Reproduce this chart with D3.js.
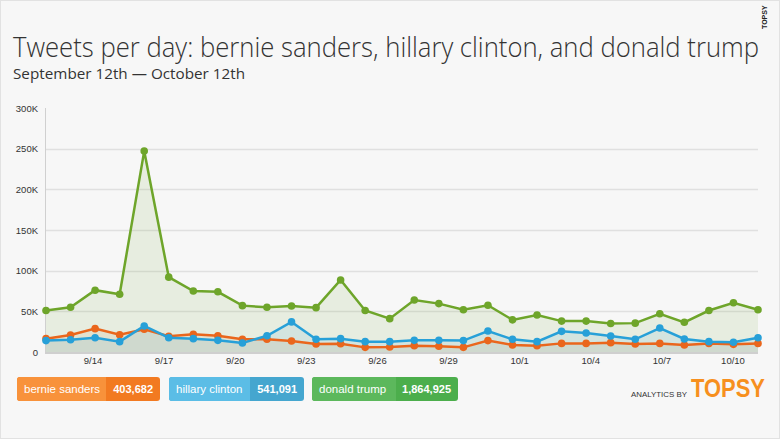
<!DOCTYPE html>
<html><head><meta charset="utf-8">
<script src="https://cdn.jsdelivr.net/npm/d3@7/dist/d3.min.js"></script>
<style>body{margin:0;background:#fff}svg{display:block}</style>
</head><body>
<svg id="c" width="780" height="439"></svg>
<script>
const days = ["9/12","9/13","9/14","9/15","9/16","9/17","9/18","9/19","9/20","9/21","9/22","9/23","9/24","9/25","9/26","9/27","9/28","9/29","9/30","10/1","10/2","10/3","10/4","10/5","10/6","10/7","10/8","10/9","10/10","10/11"];
const tickLabels = ["9/14","9/17","9/20","9/23","9/26","9/29","10/1","10/4","10/7","10/10"];
const trump = [51,55,76,71,247,92,75,74,57,55,56.5,54.5,88.5,51,41,64,59.5,52,57.5,39.5,45.5,38,38,35,35.5,47,36.5,51,60.5,52];
const hillary = [14,15,17.6,12.7,32,17.6,16.4,14.3,11,20,37,15.6,16.4,12.7,12.7,14.3,14.3,14,25.8,15.6,12.7,25.4,23.4,19.7,15.6,29.5,16,12.7,11.9,17.6];
const bernie = [16.4,20.9,28.7,21.3,27.9,19.3,21.7,20,15.6,15.6,13.5,9.8,10.2,5.7,6.1,7.8,7,5.7,14,8.6,7.8,10.6,10.6,11.5,9.8,10.6,8.6,10.6,9.4,10.6];
const yTicks = [0,50,100,150,200,250,300];
const seriesNames = ["bernie sanders","hillary clinton","donald trump"];
const seriesTotals = ["403,682","541,091","1,864,925"];

const svg = d3.select("#c");
svg.append("rect").attr("x",0.5).attr("y",0.5).attr("width",779).attr("height",438)
  .attr("fill","#f7f7f7").attr("stroke","#e2e2e2");

// title
svg.append("text").attr("x",13).attr("y",57).attr("font-family","Open Sans").attr("font-weight",300)
  .attr("font-size",27.5).attr("fill","#333").attr("textLength",746).attr("lengthAdjust","spacingAndGlyphs")
  .text("Tweets per day: bernie sanders, hillary clinton, and donald trump");
svg.append("text").attr("x",13).attr("y",78.5).attr("font-family","Open Sans").attr("font-size",15)
  .attr("fill","#333").attr("textLength",232).attr("lengthAdjust","spacingAndGlyphs").text("September 12th \u2014 October 12th");

// vertical TOPSY
svg.append("text").attr("transform","translate(767,29) rotate(-90)").attr("font-family","Liberation Sans")
  .attr("font-weight","bold").attr("font-size",7).attr("fill","#222").text("TOPSY");

const x = d3.scalePoint().domain(d3.range(days.length)).range([46,758]);
const xt = d3.scalePoint().domain(tickLabels).range([93,733]);
const y = d3.scaleLinear().domain([0,300]).range([352,108]);

// grid
svg.append("g").selectAll("line").data(yTicks.slice(1,-1)).join("line")
  .attr("x1",45).attr("x2",758).attr("y1",d=>Math.round(y(d))+0.5).attr("y2",d=>Math.round(y(d))+0.5)
  .attr("stroke","#e0e0e0").attr("stroke-width",1.3);
svg.append("g").selectAll("text").data(yTicks).join("text")
  .attr("x",38).attr("y",d=>y(d)+3.5).attr("text-anchor","end")
  .attr("font-family","Liberation Sans").attr("font-size",9.5).attr("fill","#333")
  .text(d=>d===0?"0":d+"K");

const series = [
  {v:trump, c:"#6ea52a", f:"rgba(110,165,42,0.11)"},
  {v:bernie, c:"#ea661c", f:"rgba(200,120,40,0.10)"},
  {v:hillary, c:"#27a0d8", f:"rgba(40,160,216,0.10)"}
];
const area = d3.area().x((d,i)=>x(i)).y0(y(0)).y1(d=>y(d));
const line = d3.line().x((d,i)=>x(i)).y(d=>y(d));
series.forEach(s=>{
  svg.append("path").attr("d",area(s.v)).attr("fill",s.f);
});
// axis lines
svg.append("line").attr("x1",45.5).attr("x2",45.5).attr("y1",108).attr("y2",352).attr("stroke","#d0d0d0");
svg.append("line").attr("x1",45).attr("x2",758).attr("y1",353).attr("y2",353).attr("stroke","#cfcfcf").attr("stroke-width",2);
series.forEach(s=>{
  svg.append("path").attr("d",line(s.v)).attr("fill","none").attr("stroke",s.c).attr("stroke-width",2.5);
  svg.append("g").selectAll("circle").data(s.v).join("circle")
    .attr("cx",(d,i)=>x(i)).attr("cy",d=>y(d)).attr("r",3.8).attr("fill",s.c);
});

// x labels
svg.append("g").selectAll("text").data(tickLabels).join("text")
  .attr("x",d=>xt(d)).attr("y",364).attr("text-anchor","middle")
  .attr("font-family","Liberation Sans").attr("font-size",9.5).attr("fill","#333").text(d=>d);

// legend
const leg = [
  {x:17, split:106, w:143, light:"#f8923b", dark:"#f27a21"},
  {x:169, split:250, w:135, light:"#5bbde6", dark:"#45a6cf"},
  {x:312, split:396, w:146, light:"#5cb85c", dark:"#4cae4c"}
];
leg.forEach((l,i)=>{
  const lg = svg.append("g");
  lg.append("rect").attr("x",l.x).attr("y",377).attr("width",l.w).attr("height",24).attr("rx",3).attr("fill",l.dark);
  lg.append("path").attr("d",`M${l.split},377 H${l.x+3} Q${l.x},377 ${l.x},380 V398 Q${l.x},401 ${l.x+3},401 H${l.split} Z`).attr("fill",l.light);
  lg.append("text").attr("x",l.x+7).attr("y",392.5).attr("font-family","Liberation Sans").attr("font-size",11.5)
    .attr("fill","#fff").text(seriesNames[i]);
  lg.append("text").attr("x",l.x+l.w-7).attr("y",392.5).attr("text-anchor","end").attr("font-family","Liberation Sans")
    .attr("font-weight","bold").attr("font-size",11).attr("fill","#fff").text(seriesTotals[i]);
});

// analytics by topsy
svg.append("text").attr("x",631).attr("y",397).attr("font-family","Liberation Sans").attr("font-size",8)
  .attr("fill","#333").attr("textLength",56).attr("lengthAdjust","spacingAndGlyphs").text("ANALYTICS BY");
svg.append("text").attr("x",691).attr("y",397).attr("font-family","Liberation Sans").attr("font-weight","bold")
  .attr("font-size",25.5).attr("fill","#f7901e").attr("textLength",74).attr("lengthAdjust","spacingAndGlyphs").text("TOPSY");
</script>
</body></html>
